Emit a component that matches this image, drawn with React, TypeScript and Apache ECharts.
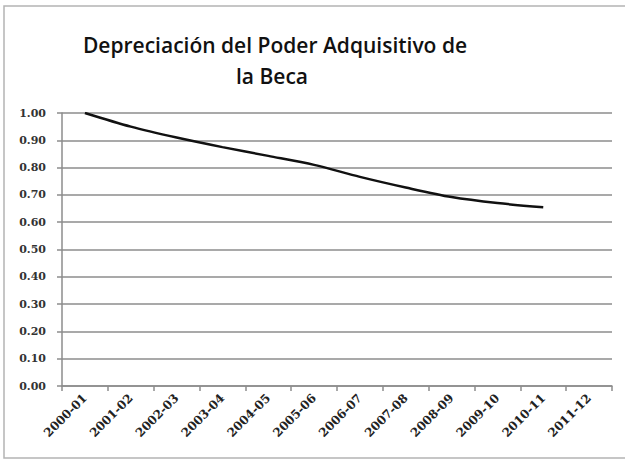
import React, { useEffect, useRef } from "react";
import * as echarts from "echarts";

const titleLines = ["Depreciación del Poder Adquisitivo de", "la Beca"];
const categories = [
  "2000-01", "2001-02", "2002-03", "2003-04", "2004-05", "2005-06",
  "2006-07", "2007-08", "2008-09", "2009-10", "2010-11", "2011-12",
];
const values = [1.0, 0.95, 0.91, 0.875, 0.843, 0.81, 0.766, 0.727, 0.692, 0.67, 0.655];
const yMin = 0;
const yMax = 1;
const yStep = 0.1;

export default function App() {
  const ref = useRef<HTMLDivElement>(null);
  useEffect(() => {
    if (!ref.current) return;
    const chart = echarts.init(ref.current, undefined, { renderer: "svg" });
    chart.setOption({
      animation: false,
      backgroundColor: "#ffffff",
      graphic: [
        {
          type: "rect",
          shape: { x: 4, y: 6, width: 700, height: 452 },
          style: { fill: "none", stroke: "#b4b4b4", lineWidth: 1.5 },
          silent: true,
        },
        {
          type: "text",
          x: 275,
          y: 45,
          style: {
            text: titleLines[0],
            font: "600 21px 'Open Sans'",
            fill: "#111",
            textAlign: "center",
            textVerticalAlign: "middle",
          },
        },
        {
          type: "text",
          x: 272,
          y: 76,
          style: {
            text: titleLines[1],
            font: "600 21px 'Open Sans'",
            fill: "#111",
            textAlign: "center",
            textVerticalAlign: "middle",
          },
        },
      ],
      grid: { left: 62, right: 13, top: 113, bottom: 74, containLabel: false },
      xAxis: {
        type: "category",
        data: categories,
        boundaryGap: true,
        axisLine: { show: true, lineStyle: { color: "#8c8c8c", width: 1.5 } },
        axisTick: { show: true, length: 5, interval: 0, lineStyle: { color: "#8c8c8c", width: 1.5 } },
        axisLabel: {
          interval: 0,
          rotate: 45,
          margin: 10,
          color: "#222",
          fontFamily: "DejaVu Serif",
          fontWeight: "bold",
          fontSize: 12,
        },
        splitLine: { show: false },
      },
      yAxis: {
        type: "value",
        min: yMin,
        max: yMax,
        interval: yStep,
        axisLine: { show: true, lineStyle: { color: "#8c8c8c", width: 1.5 } },
        axisTick: { show: true, length: 5, lineStyle: { color: "#8c8c8c", width: 1.5 } },
        axisLabel: {
          margin: 16,
          color: "#333",
          fontFamily: "DejaVu Serif",
          fontWeight: "bold",
          fontSize: 11,
          formatter: (v: number) => v.toFixed(2),
        },
        splitLine: { show: true, lineStyle: { color: "#8c8c8c", width: 1.5 } },
      },
      series: [
        {
          type: "line",
          data: values,
          smooth: 0.3,
          showSymbol: false,
          symbol: "none",
          lineStyle: { color: "#111", width: 2.5 },
        },
      ],
    });
    return () => chart.dispose();
  }, []);
  return (
    <div
      ref={ref}
      style={{ position: "fixed", left: 0, top: 0, width: 625, height: 460 }}
    />
  );
}
